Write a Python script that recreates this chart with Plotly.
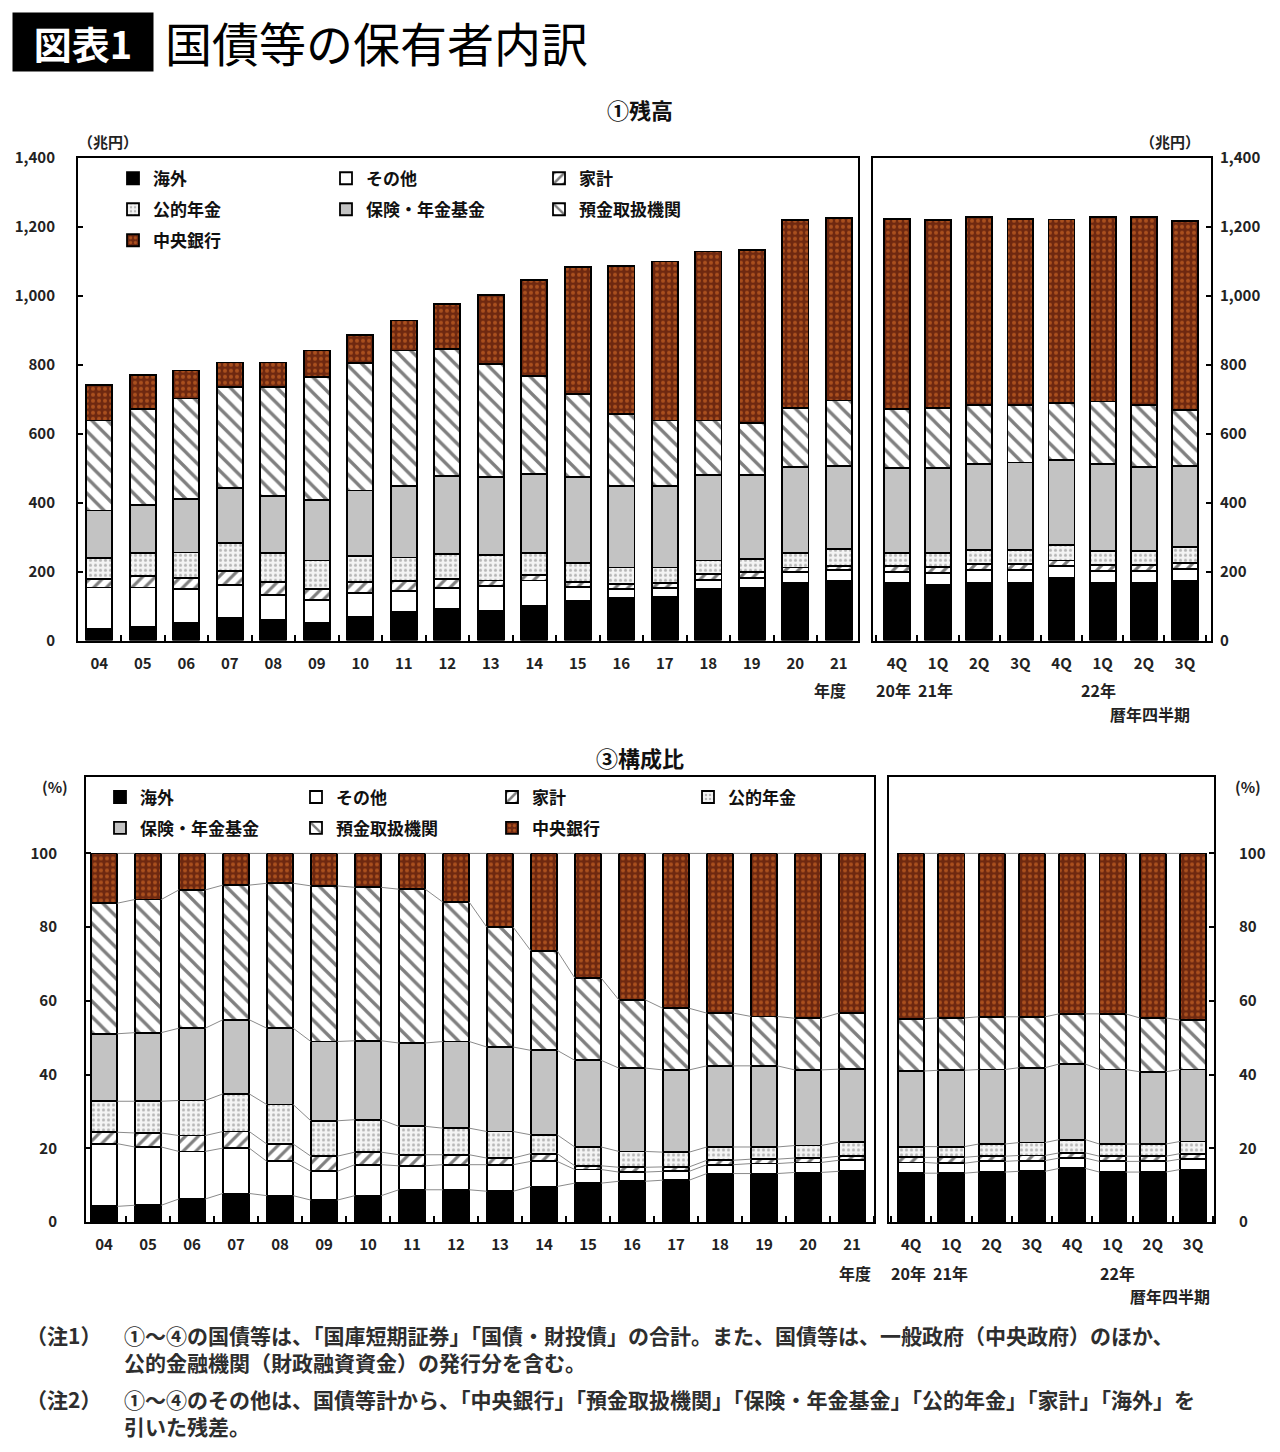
import numpy as np
import plotly.graph_objects as go

# ---------------- data ----------------
series = ["海外", "その他", "家計", "公的年金", "保険・年金基金", "預金取扱機関", "中央銀行"]

fy_labels = ["04", "05", "06", "07", "08", "09", "10", "11", "12", "13", "14", "15", "16", "17", "18", "19", "20", "21"]
q_labels = ["4Q", "1Q", "2Q", "3Q", "4Q", "1Q", "2Q", "3Q"]

# ① 残高 (兆円), fiscal years
fy_kaigai = [34, 39, 50, 65, 60, 50, 68, 82, 92, 85, 101, 116, 124, 126, 150, 153, 166, 172]
fy_sonota = [120, 115, 100, 97, 73, 68, 69, 61, 60, 72, 73, 39, 26, 27, 26, 29, 32, 33]
fy_kakei = [25, 34, 32, 39, 36, 32, 32, 29, 27, 17, 17, 14, 14, 13, 17, 16, 14, 12]
fy_koteki = [60, 65, 73, 81, 84, 82, 77, 69, 72, 75, 62, 55, 48, 46, 39, 39, 41, 49]
fy_hoken = [138, 141, 156, 161, 167, 176, 189, 208, 227, 226, 230, 251, 237, 237, 249, 244, 249, 241]
fy_yokin = [261, 278, 291, 293, 316, 357, 369, 392, 368, 327, 285, 240, 208, 189, 157, 149, 172, 189]
fy_chuo = [104, 99, 81, 70, 70, 76, 83, 87, 131, 201, 277, 367, 430, 461, 490, 502, 546, 529]

# ① 残高 (兆円), calendar quarters
q_kaigai = [166, 162, 166, 168, 182, 168, 166, 173]
q_sonota = [33, 34, 38, 36, 33, 34, 35, 35]
q_kakei = [16, 17, 17, 17, 17, 16, 17, 16]
q_koteki = [39, 41, 41, 41, 44, 42, 42, 47]
q_hoken = [246, 246, 250, 254, 247, 252, 243, 234]
q_yokin = [171, 174, 170, 166, 165, 181, 179, 164]
q_chuo = [552, 545, 546, 541, 533, 535, 545, 547]

# ③ 構成比 (%), fiscal years
fyp_kaigai = [4.3, 4.6, 6.3, 7.8, 7.2, 6.0, 7.2, 8.8, 8.8, 8.4, 9.7, 10.6, 11.1, 11.4, 13.2, 13.2, 13.5, 13.8]
fyp_sonota = [17.0, 15.8, 12.9, 12.3, 9.3, 7.8, 8.4, 6.5, 6.8, 7.2, 6.8, 3.7, 2.5, 2.4, 2.4, 2.7, 2.7, 3.0]
fyp_kakei = [3.1, 3.8, 4.3, 4.5, 4.7, 4.1, 3.4, 3.0, 2.7, 1.8, 2.1, 1.0, 1.3, 1.2, 1.2, 1.2, 1.2, 1.1]
fyp_koteki = [8.4, 8.6, 9.5, 10.2, 10.7, 9.6, 8.8, 7.7, 7.2, 7.2, 5.1, 5.1, 4.3, 4.0, 3.6, 3.3, 3.4, 3.8]
fyp_hoken = [18.3, 18.6, 19.6, 20.1, 20.7, 21.5, 21.4, 22.6, 23.5, 22.9, 22.9, 23.5, 22.6, 22.3, 22.0, 22.0, 20.5, 19.8]
fyp_yokin = [35.4, 36.1, 37.5, 36.5, 39.3, 42.2, 41.6, 41.7, 37.8, 32.5, 27.0, 22.3, 18.5, 16.7, 14.3, 13.4, 14.0, 15.2]
fyp_chuo = [13.5, 12.5, 9.9, 8.6, 8.1, 8.8, 9.2, 9.7, 13.2, 20.0, 26.4, 33.8, 39.7, 42.0, 43.3, 44.2, 44.7, 43.3]

# ③ 構成比 (%), calendar quarters
qp_kaigai = [13.3, 13.3, 13.6, 13.8, 14.6, 13.6, 13.6, 14.3]
qp_sonota = [2.9, 2.7, 2.9, 2.9, 2.8, 2.9, 2.9, 2.8]
qp_kakei = [1.4, 1.6, 1.4, 1.4, 1.4, 1.4, 1.4, 1.5]
qp_koteki = [2.9, 2.9, 3.3, 3.5, 3.6, 3.3, 3.3, 3.3]
qp_hoken = [20.5, 20.7, 20.2, 20.3, 20.5, 20.2, 19.6, 19.5]
qp_yokin = [14.2, 14.2, 14.3, 13.8, 13.6, 15.1, 14.6, 13.4]
qp_chuo = [44.8, 44.6, 44.3, 44.3, 43.5, 43.5, 44.6, 45.2]

amt_fy = [fy_kaigai, fy_sonota, fy_kakei, fy_koteki, fy_hoken, fy_yokin, fy_chuo]
amt_q = [q_kaigai, q_sonota, q_kakei, q_koteki, q_hoken, q_yokin, q_chuo]
pct_fy = [fyp_kaigai, fyp_sonota, fyp_kakei, fyp_koteki, fyp_hoken, fyp_yokin, fyp_chuo]
pct_q = [qp_kaigai, qp_sonota, qp_kakei, qp_koteki, qp_hoken, qp_yokin, qp_chuo]

note1_lines = ["①～④の国債等は、「国庫短期証券」「国債・財投債」の合計。また、国債等は、一般政府（中央政府）のほか、",
               "公的金融機関（財政融資資金）の発行分を含む。"]
note2_lines = ["①～④のその他は、国債等計から、「中央銀行」「預金取扱機関」「保険・年金基金」「公的年金」「家計」「海外」を",
               "引いた残差。"]

# ---------------- styles ----------------
FONT = "Noto Sans CJK JP"
W, H = 1280, 1452


def px(x):
    return x / W


def py(y):
    # map a reference pixel row to a paper fraction (small empirical correction)
    return 1 - ((y - 11.2) / 0.986) / H


styles = [
    dict(color="#000000"),
    dict(color="#ffffff"),
    dict(color="#ffffff", pattern=dict(shape="/", fgcolor="#000000", bgcolor="#ffffff", size=9, solidity=0.35)),
    dict(color="#ffffff", pattern=dict(shape=".", fgcolor="#7a7a7a", bgcolor="#f4f4f4", size=5, solidity=0.3)),
    dict(color="#c3c3c3"),
    dict(color="#ffffff", pattern=dict(shape="\\", fgcolor="#000000", bgcolor="#ffffff", size=11, solidity=0.3)),
    dict(color="#6e2810", pattern=dict(shape=".", fgcolor="#e8772c", bgcolor="#6e2810", size=6, solidity=0.35)),
]

legend_top = ["legend", "legend", "legend", "legend2", "legend2", "legend2", "legend3"]
legend_bot = ["legend4", "legend4", "legend4", "legend4", "legend5", "legend5", "legend5"]

fig = go.Figure()

panels = [
    (amt_fy, fy_labels, "x", "y", 0.6, legend_top, False),
    (amt_q, q_labels, "x2", "y2", 0.63, None, False),
    (pct_fy, fy_labels, "x3", "y3", 0.6, legend_bot, True),
    (pct_q, q_labels, "x4", "y4", 0.65, None, True),
]

for vals, labels, xa, ya, bw, legs, lines in panels:
    xs = np.arange(len(labels))
    if lines:
        cum = np.cumsum(np.array(vals, dtype=float), axis=0)
        for row in cum:
            lx, ly = [], []
            for i in range(len(xs) - 1):
                lx += [xs[i] + bw / 2, xs[i + 1] - bw / 2, None]
                ly += [row[i], row[i + 1], None]
            fig.add_trace(go.Scatter(x=lx, y=ly, mode="lines", xaxis=xa, yaxis=ya,
                                     line=dict(color="#8a8a8a", width=1),
                                     showlegend=False, hoverinfo="skip"))
    for k, name in enumerate(series):
        marker = dict(line=dict(color="#000000", width=1.8), **styles[k])
        fig.add_trace(go.Bar(
            x=xs, y=vals[k], name=name, width=bw, marker=marker,
            xaxis=xa, yaxis=ya,
            showlegend=legs is not None,
            legend=legs[k] if legs is not None else "legend",
        ))

# ---------------- axes ----------------
tickfont = dict(family=FONT, size=15, color="#222222", weight="bold")


def xaxis(domain, labels, rng, anchor):
    n = len(labels)
    return dict(domain=domain, anchor=anchor, range=rng, tickmode="array",
                tickvals=list(range(n)), ticktext=labels, ticks="", showgrid=False,
                zeroline=False, showline=True, mirror=True, linecolor="#000000", linewidth=2,
                tickfont=tickfont, ticklabelstandoff=8,
                minor=dict(ticks="inside", tickmode="linear", tick0=0.5, dtick=1,
                           ticklen=6, tickcolor="#000000", tickwidth=1.5, showgrid=False))


def yaxis(domain, rng, tickvals, side, anchor, standoff, fmt=None):
    d = dict(domain=domain, anchor=anchor, range=rng, tickmode="array", tickvals=tickvals,
             ticks="inside", ticklen=5, tickcolor="#000000", tickwidth=1.5, side=side,
             showgrid=False, zeroline=False, showline=True, mirror=True,
             linecolor="#000000", linewidth=2, tickfont=tickfont, ticklabelstandoff=standoff)
    if fmt:
        d["tickformat"] = fmt
    return d


top_dom = [py(640), py(157)]
bot_dom = [py(1222), py(777)]

fig.update_layout(
    xaxis=xaxis([px(78), px(858)], fy_labels, [-0.49, 17.44], "y"),
    xaxis2=xaxis([px(873), px(1211)], q_labels, [-0.58, 7.63], "y2"),
    xaxis3=xaxis([px(86), px(874)], fy_labels, [-0.41, 17.5], "y3"),
    xaxis4=xaxis([px(889), px(1214)], q_labels, [-0.55, 7.52], "y4"),
    yaxis=yaxis(top_dom, [0, 1400], list(range(0, 1401, 200)), "left", "x", 18, ","),
    yaxis2=yaxis(top_dom, [0, 1400], list(range(0, 1401, 200)), "right", "x2", 4, ","),
    yaxis3=yaxis(bot_dom, [0, 120.6], list(range(0, 101, 20)), "left", "x3", 24),
    yaxis4=yaxis(bot_dom, [0, 120.6], list(range(0, 101, 20)), "right", "x4", 20),
)

# ---------------- legends ----------------
legfont = dict(family=FONT, size=17, color="#111111", weight="bold")


def leg(x, y, ew):
    return dict(orientation="h", x=px(x), y=py(y), xanchor="left", yanchor="middle",
                entrywidth=ew, entrywidthmode="pixels", font=legfont, bgcolor="rgba(0,0,0,0)",
                traceorder="normal", itemwidth=30, tracegroupgap=0)


fig.update_layout(
    legend=leg(113, 178, 168),
    legend2=leg(113, 209, 168),
    legend3=leg(113, 240, 168),
    legend4=leg(100, 797, 151),
    legend5=leg(100, 828, 151),
)

# ---------------- annotations ----------------
ann = []


def text(x, y, s, size=15, anchor="center", weight="bold", color="#222222", family=FONT):
    ann.append(dict(x=px(x), y=py(y), xref="paper", yref="paper", text=s, showarrow=False,
                    xanchor=anchor, yanchor="middle", align="left",
                    font=dict(family=family, size=size, color=color, weight=weight)))


# title
ann.append(dict(x=px(12), y=py(41), xref="paper", yref="paper", text="図表1", showarrow=False,
                xanchor="left", yanchor="middle", bgcolor="#000000", borderpad=4,
                width=132, height=50,
                font=dict(family=FONT, size=38, color="#ffffff", weight="bold")))
text(163, 41, "国債等の保有者内訳", size=47, anchor="left", weight="normal", color="#000000")

text(640, 108, "①残高", size=22, color="#111111")
text(108, 141, "（兆円）", size=15)
text(1170, 141, "（兆円）", size=15)
text(830, 690, "年度", size=16)
text(893, 690, "20年", size=16)
text(935, 690, "21年", size=16)
text(1098, 690, "22年", size=16)
text(1150, 714, "暦年四半期", size=16)

text(640, 757, "③構成比", size=22, color="#111111")
text(55, 786, "(%)", size=15)
text(1248, 786, "(%)", size=15)
text(855, 1273, "年度", size=16)
text(908, 1273, "20年", size=16)
text(950, 1273, "21年", size=16)
text(1117, 1273, "22年", size=16)
text(1170, 1296, "暦年四半期", size=16)

notefont = 21
notecol = "#2e2e2e"
text(24, 1335, "（注1）", size=notefont, anchor="left", weight="bold", color=notecol)
text(122, 1348.5, "<br>".join(note1_lines), size=notefont, anchor="left", weight="bold", color=notecol)
text(24, 1399, "（注2）", size=notefont, anchor="left", weight="bold", color=notecol)
text(122, 1412.5, "<br>".join(note2_lines), size=notefont, anchor="left", weight="bold", color=notecol)

fig.update_layout(
    annotations=ann,
    barmode="stack",
    width=W, height=H,
    margin=dict(l=0, r=0, t=0, b=0),
    paper_bgcolor="#ffffff",
    plot_bgcolor="#ffffff",
    font=dict(family=FONT, color="#222222"),
)

fig.write_html("out.html", config={"displayModeBar": False},
               post_script="document.body.style.margin='0';")
